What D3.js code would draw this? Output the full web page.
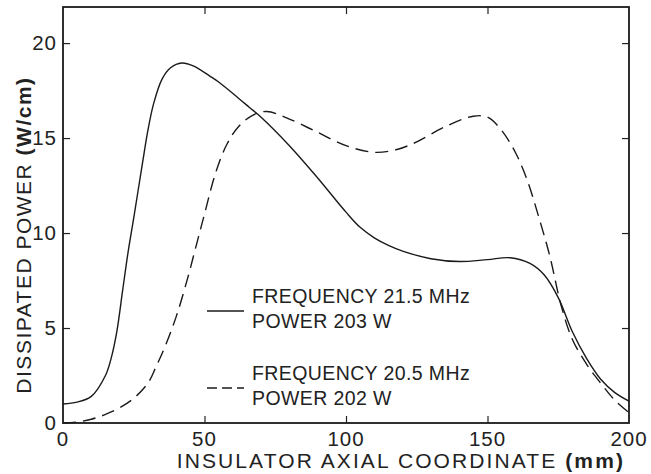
<!DOCTYPE html>
<html>
<head>
<meta charset="utf-8">
<script src="https://cdn.jsdelivr.net/npm/d3@7"></script>
<style>
  body { margin: 0; background: #fff; }
  svg { font-family: "Liberation Sans", Arial, sans-serif; }
</style>
</head>
<body>
<div id="chart"></div>
<script>
// axial coordinate (mm) and dissipated power (W/cm)
const xSolid = [0, 5, 10, 15, 17, 19, 21, 23, 25, 28, 30, 32, 35, 38, 42, 46, 52, 55, 62, 66, 70,
  80, 90, 100, 105, 110, 115, 120, 130, 140, 150, 158, 165, 170, 175, 180, 185, 190, 195, 200];
const ySolid = [1.0, 1.1, 1.4, 2.5, 3.4, 4.8, 6.9, 9.0, 10.8, 13.6, 15.4, 16.8, 18.1, 18.7, 18.95, 18.8, 18.25, 17.95, 17.1, 16.6, 16.1,
  14.6, 12.9, 11.1, 10.3, 9.75, 9.35, 9.05, 8.65, 8.5, 8.6, 8.7, 8.4, 7.8, 6.6, 4.8, 3.4, 2.3, 1.6, 1.15];

const xDashed = [0, 5, 10, 15, 20, 25, 30, 33, 36, 40, 44, 47, 50, 54, 58, 62, 67, 72, 80, 90,
  100, 110, 118, 125, 135, 145, 150, 155, 160, 164, 168, 172, 176, 180, 185, 190, 195, 200];
const yDashed = [0.0, 0.05, 0.2, 0.45, 0.8, 1.3, 2.1, 3.0, 4.0, 5.6, 7.6, 9.3, 11.0, 13.2, 14.7, 15.6, 16.2, 16.4, 16.0, 15.3,
  14.6, 14.25, 14.4, 14.8, 15.6, 16.15, 16.1, 15.4, 14.2, 12.8, 10.9, 8.8, 6.2, 4.4, 3.1, 2.1, 1.2, 0.55];

const xTicks = [0, 50, 100, 150, 200];
const yTicks = [0, 5, 10, 15, 20];
const legendSolid = ["FREQUENCY 21.5 MHz", "POWER 203 W"];
const legendDashed = ["FREQUENCY 20.5 MHz", "POWER 202 W"];

const width = 651, height = 474,
  margin = ({top: 7, right: 22, bottom: 51, left: 63});

const svg = d3.select("#chart")
  .append("svg")
  .attr("width", width)
  .attr("height", height)
  .attr("viewBox", [0, 0, width, height]);

const x = d3.scaleLinear()   // axial coordinate
  .domain([0, 200])
  .range([margin.left, width - margin.right]);

const y = d3.scaleLinear()   // power, the frame goes a bit above 20
  .domain([0, 21.9])
  .range([height - margin.bottom, margin.top]);

// ticks pointing inward on all four sides
svg.append("g")
  .attr("transform", `translate(0, ${y(0)})`)
  .call(d3.axisTop(x).tickValues(xTicks.slice(1, -1)).tickSize(7).tickFormat(""))
  .call(g => g.select(".domain").remove());
svg.append("g")
  .attr("transform", `translate(0, ${margin.top})`)
  .call(d3.axisBottom(x).tickValues(xTicks.slice(1, -1)).tickSize(7).tickFormat(""))
  .call(g => g.select(".domain").remove());
svg.append("g")
  .attr("transform", `translate(${x(0)}, 0)`)
  .call(d3.axisRight(y).tickValues(yTicks.slice(1)).tickSize(7).tickFormat(""))
  .call(g => g.select(".domain").remove());
svg.append("g")
  .attr("transform", `translate(${x(200)}, 0)`)
  .call(d3.axisLeft(y).tickValues(yTicks.slice(1)).tickSize(7).tickFormat(""))
  .call(g => g.select(".domain").remove());
svg.selectAll(".tick line").attr("stroke", "#222").attr("stroke-width", 1.2);

// frame
svg.append("rect")
  .attr("x", x(0))
  .attr("y", margin.top)
  .attr("width", x(200) - x(0))
  .attr("height", y(0) - margin.top)
  .attr("fill", "none")
  .attr("stroke", "#1a1a1a")
  .attr("stroke-width", 1.8);

// tick labels
svg.append("g").selectAll("text")
  .data(xTicks)
  .join("text")
  .attr("x", d => x(d))
  .attr("y", y(0) + 23)
  .attr("text-anchor", "middle")
  .attr("font-size", 20.5)
  .attr("letter-spacing", 1)
  .attr("fill", "#222")
  .text(d => d);

svg.append("g").selectAll("text")
  .data(yTicks)
  .join("text")
  .attr("x", x(0) - 6)
  .attr("y", d => y(d) + 7)
  .attr("text-anchor", "end")
  .attr("font-size", 20.5)
  .attr("letter-spacing", 1)
  .attr("fill", "#222")
  .text(d => d);

// axis titles
const xTitle = svg.append("text")
  .attr("x", 625)
  .attr("y", 468)
  .attr("text-anchor", "end")
  .attr("font-size", 21)
  .attr("letter-spacing", 2.1)
  .attr("fill", "#222");
xTitle.append("tspan").text("INSULATOR AXIAL COORDINATE ");
xTitle.append("tspan").attr("font-weight", "bold").text("(mm)");

const yTitle = svg.append("text")
  .attr("transform", "translate(31, 235) rotate(-90)")
  .attr("text-anchor", "middle")
  .attr("font-size", 21)
  .attr("letter-spacing", 1.5)
  .attr("fill", "#222");
yTitle.append("tspan").text("DISSIPATED POWER ");
yTitle.append("tspan").attr("font-weight", "bold").text("(W/cm)");

// curves
const line = d3.line()
  .x(d => x(d[0]))
  .y(d => y(d[1]))
  .curve(d3.curveCatmullRom.alpha(0.5));

svg.append("path")
  .datum(d3.zip(xSolid, ySolid))
  .attr("fill", "none")
  .attr("stroke", "#1a1a1a")
  .attr("stroke-width", 1.4)
  .attr("d", line);

svg.append("path")
  .datum(d3.zip(xDashed, yDashed))
  .attr("fill", "none")
  .attr("stroke", "#1a1a1a")
  .attr("stroke-width", 1.4)
  .attr("stroke-dasharray", "13,7")
  .attr("d", line);

// legend
const legend = [
  {lines: legendSolid, dash: null, top: 303},
  {lines: legendDashed, dash: "10,5", top: 380}
];
for (let item of legend) {
  const lineY = item.top + 8;
  svg.append("line")
    .attr("x1", 207).attr("x2", 244)
    .attr("y1", lineY).attr("y2", lineY)
    .attr("stroke", "#1a1a1a")
    .attr("stroke-width", 1.4)
    .attr("stroke-dasharray", item.dash);
  svg.append("g").selectAll("text")
    .data(item.lines)
    .join("text")
    .attr("x", 252)
    .attr("y", (d, i) => item.top + i * 25)
    .attr("font-size", 19.5)
    .attr("letter-spacing", 0.4)
    .attr("fill", "#222")
    .text(d => d);
}
</script>
</body>
</html>
